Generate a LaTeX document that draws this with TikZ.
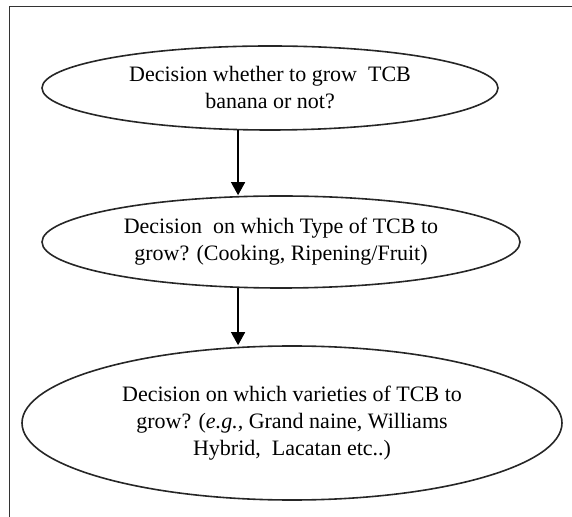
\documentclass[tikz,border=0pt]{standalone}
\usepackage{fontspec}
\setmainfont{Liberation Serif}
\usepackage{tikz}
\usetikzlibrary{shapes.geometric, arrows.meta}
\tikzstyle{decision} = [ellipse, inner sep=0pt, align=center, text centered, draw=black!85, line width=0.8pt, font=\fontsize{11}{13.5}\selectfont]
\tikzstyle{arrow} = [line width=0.6pt,-{Triangle[length=6.5pt,width=7pt]}]
\tikzstyle{frame} = [line width=0.75pt, draw=black!80]

\begin{document}
\begin{tikzpicture}
\useasboundingbox (0,0) rectangle (286pt,-258.5pt);

% Frame (top and left only)
\draw [frame] (286pt,-3.25pt) -- (4.75pt,-3.25pt) -- (4.75pt,-258.5pt);

% Nodes
\node (grow) [decision, minimum width=228pt, minimum height=42pt] at (135pt,-44pt) {Decision whether to grow~ TCB\\banana or not?};
\node (type) [decision, minimum width=239pt, minimum height=46pt, below of=grow, node distance=77pt, xshift=5.5pt] {Decision~ on which Type of TCB to\\grow? (Cooking, Ripening/Fruit)};
\node (variety) [decision, minimum width=270pt, minimum height=77pt, below of=type, node distance=90.5pt, xshift=5.5pt] {Decision on which varieties of TCB to\\grow? (\textit{e.g.,} Grand naine, Williams\\Hybrid,~ Lacatan etc..)};

% Arrows
\draw [arrow] (grow.233) -- (grow.233 |- type.north);
\draw [arrow] (type.227) -- (type.227 |- variety.north);

\end{tikzpicture}
\end{document}
